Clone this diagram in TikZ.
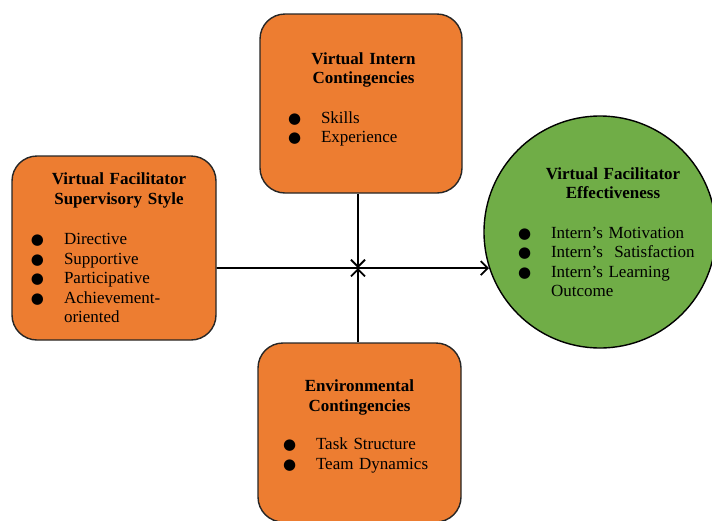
\documentclass[tikz,border=0pt]{standalone}
\usepackage{fontspec}
\setmainfont{Liberation Serif}
\newfontfamily\symbolfont{DejaVu Sans}
\usetikzlibrary{arrows.meta}

\definecolor{boxorange}{RGB}{237,125,49}
\definecolor{outgreen}{RGB}{112,173,71}

% Box headings and bullet lists.
\newcommand{\heading}[2]{{\bfseries\leftskip=#1 plus 1fil\rightskip=0pt plus 1fil\parfillskip=0pt\relax #2\par}}
\newcommand{\dotmark}{{\symbolfont\fontsize{15pt}{15pt}\selectfont ●}}
\newcommand{\entry}[1]{\par\noindent\makebox[33pt][l]{\dotmark}\mbox{#1}}
\newcommand{\more}[1]{\par\noindent\hspace*{33pt}#1}

\begin{document}
\begin{tikzpicture}[%
        x = 1pt,
        y = -1pt,
        > = {Straight Barb[length=7pt, width=14pt]},
        line width = 1.8pt,
        factor/.style = {draw = black!85, line width = 1.4pt, fill = boxorange,
            rounded corners = 25pt, inner sep = 0pt, align = left,
            font = \fontsize{17pt}{19.5pt}\selectfont},
        outcome/.style = {circle, draw = black, line width = 1.4pt, fill = outgreen,
            inner sep = 0pt, align = left,
            font = \fontsize{17pt}{19.5pt}\selectfont}
    ]

        \useasboundingbox (0, 0) rectangle (712, 520);

        % Draw the factors.
        \node[factor, minimum width = 204pt, minimum height = 184pt, text width = 204pt]
            (style) at (114, 248) {%
            \heading{10pt}{Virtual Facilitator\\Supervisory Style}\vspace{21pt}
            {\leftskip=19pt \entry{Directive}\entry{Supportive}\entry{Participative}%
             \entry{Achievement-}\more{oriented}\par}};
        \node[factor, minimum width = 202pt, minimum height = 179pt, text width = 202pt]
            (intern) at (361, 103.5) {%
            \heading{5pt}{Virtual Intern\\Contingencies}\vspace{20pt}
            {\leftskip=28pt \entry{Skills}\entry{Experience}\par}\kern8pt};
        \node[factor, minimum width = 203pt, minimum height = 179pt, text width = 203pt]
            (environment) at (359.5, 432.5) {%
            \heading{0pt}{Environmental\\Contingencies}\vspace{19pt}
            {\leftskip=25pt \entry{Task Structure}\entry{Team Dynamics}\par}\kern12pt};

        % Draw the outcome.
        \node[outcome, minimum size = 232pt, text width = 180pt]
            (effectiveness) at (600, 232) {%
            \heading{26pt}{Virtual Facilitator\\Effectiveness}\vspace{20pt}
            {\leftskip=8pt \entry{Intern's Motivation}\entry{Intern's\ \ Satisfaction}%
             \entry{Intern's Learning}\more{Outcome}\par}};

        % Connectors.
        \coordinate (hub) at (358, 268);
        \draw[->] (style.east |- hub) -- (hub) -- (effectiveness.198);
        \draw[->] (hub |- intern.south) -- (hub);
        \draw[->] (hub |- environment.north) -- (hub);
    \end{tikzpicture}
\end{document}
